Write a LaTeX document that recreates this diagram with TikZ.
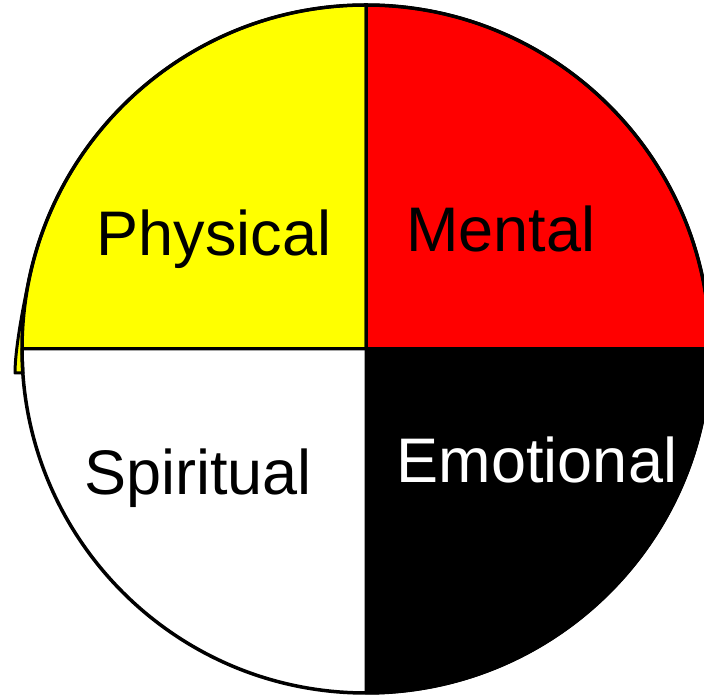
\documentclass[tikz,border=0pt]{standalone}
\usepackage{fontspec}
\setmainfont{Liberation Sans}
\usetikzlibrary{calc}
\definecolor{wheelyellow}{RGB}{255,255,0}
\definecolor{wheelred}{RGB}{255,0,0}

\begin{document}
\begin{tikzpicture}[
    x=1pt, y=1pt,
    quarter/.style={draw=black, line width=3pt, line join=round},
    rim/.style={draw=black, line width=3.5pt},
    quadtext/.style={inner sep=0pt, anchor=base, font=\fontsize{63}{70}\selectfont}
]
\useasboundingbox (0,0) rectangle (704,698);
\clip (0,0) rectangle (704,698);
\coordinate (c) at (366,349);
\coordinate (top) at (366,693);
\coordinate (bot) at (366,5);
\coordinate (lft) at (22,349);
\coordinate (rgt) at (710,349);

% quarters
\path[quarter, fill=wheelyellow] (c) -- (top) arc[start angle=90, end angle=167, radius=344]
    .. controls (24,397) and (15,350) .. (15,325) -- (23,325) -- (lft) -- cycle;
\path[quarter, fill=wheelred] (c) -- (rgt) arc[start angle=0, end angle=90, radius=344] -- cycle;
\path[quarter, fill=black] (c) -- (bot) arc[start angle=-90, end angle=0, radius=344] -- cycle;

\draw[rim] (c) circle[radius=344];
\draw[quarter] (top) -- (bot);
\draw[quarter] (lft) -- (rgt);

\node[quadtext] (phys) at (214,442) {Physical};
\node[quadtext] (ment) at (501,446) {Mental};
\node[quadtext] (spir) at (198,203) {Spiritual};
\node[quadtext, text=white] (emot) at (537,215) {Emotional};
\end{tikzpicture}
\end{document}
